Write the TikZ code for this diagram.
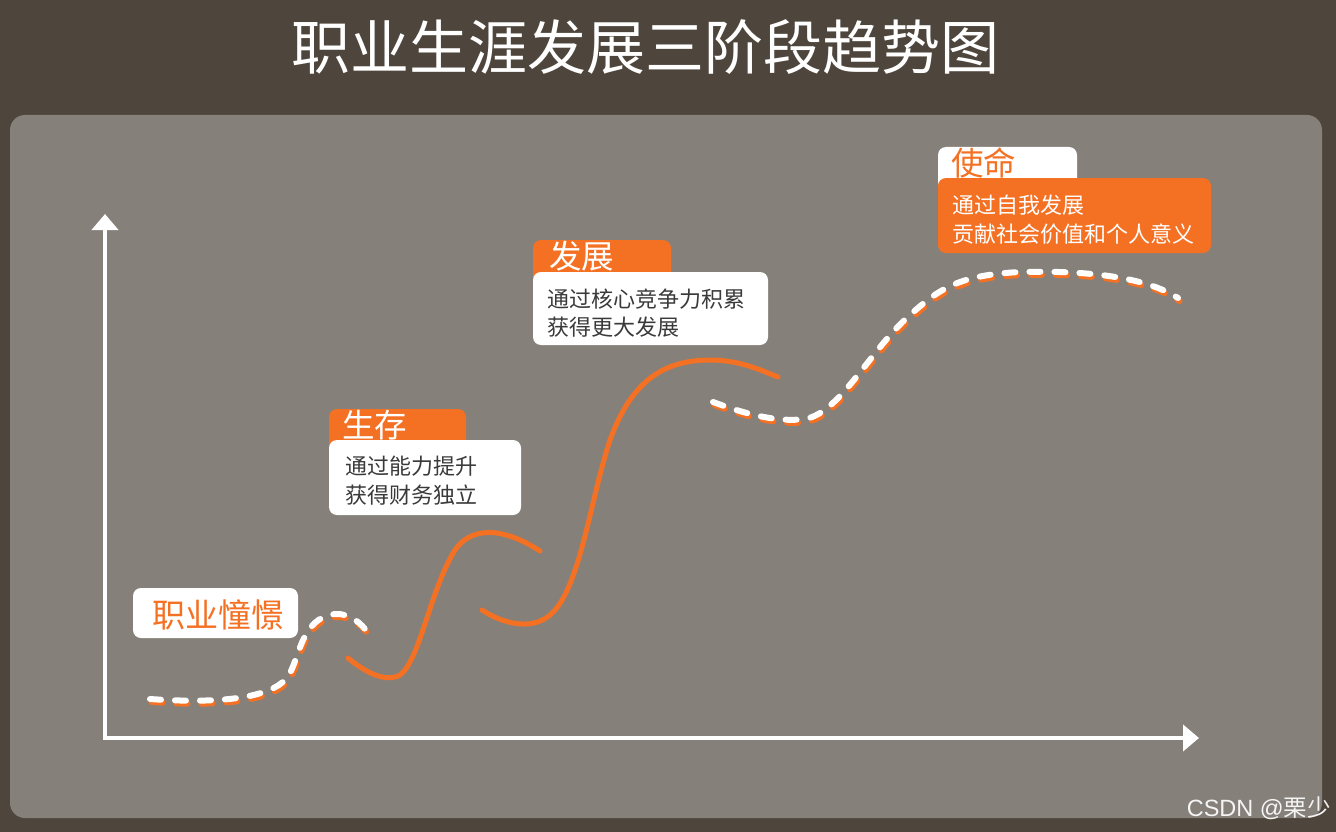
\documentclass[tikz,border=0pt]{standalone}
\usepackage{fontspec}
\setmainfont{Noto Sans CJK SC}
\newfontfamily\wmfont{Liberation Sans}
\usetikzlibrary{arrows.meta}
\definecolor{bgdark}{HTML}{4E463C}
\definecolor{panel}{HTML}{86807A}
\definecolor{orng}{HTML}{F47124}
\definecolor{bodytxt}{HTML}{3A3A3A}
\tikzset{
  dashcurve/.style={line width=6pt, line cap=round, dash pattern=on 11pt off 14pt},
  solidcurve/.style={orng, line width=5pt, line cap=round},
  axisline/.style={white, line width=4pt, -{Triangle[length=16pt, width=26pt]}},
  whitebox/.style={fill=white, rounded corners=8pt},
  orangebox/.style={fill=orng, rounded corners=8pt},
  headtxt/.style={inner sep=0pt, anchor=west, font=\fontsize{32.5}{32.5}\selectfont},
  bodyline/.style={inner sep=0pt, anchor=west, text=bodytxt, font=\fontsize{22}{22}\selectfont},
}
\begin{document}
\begin{tikzpicture}[x=1pt, y=-1pt]
\useasboundingbox (0,0) rectangle (1336,832);
\fill[bgdark] (0,0) rectangle (1336,832);
\fill[panel, rounded corners=15pt] (10,115) rectangle (1322,818);

% title
\node[text=white, inner sep=0pt, font=\fontsize{59}{59}\selectfont] (title) at (645,47) {职业生涯发展三阶段趋势图};

% axes
\coordinate (origin) at (105,738);
\coordinate (ytip) at (105,214);
\coordinate (xtip) at (1199,738);
\draw[axisline] (105,740) -- (ytip);
\draw[axisline] (103,738) -- (xtip);

% curve 1 (dashed)
\def\curveone{(150,699) .. controls (220,704) and (270,698) .. (287,678) .. controls (300,660) and (300,618) .. (335,614) .. controls (350,613) and (362,624) .. (368,633)}
\draw[dashcurve, orng, shift={(1.5,3)}] \curveone;
\draw[dashcurve, white] \curveone;

% curve 2 (solid)
\draw[solidcurve] (348,658) .. controls (365,672) and (385,683) .. (400,675) .. controls (420,660) and (430,590) .. (455,550) .. controls (470,528) and (500,525) .. (540,551);

% curve 3 (solid)
\draw[solidcurve] (482,610) .. controls (500,622) and (530,632) .. (550,615) .. controls (580,590) and (590,500) .. (610,440) .. controls (630,385) and (660,360) .. (710,360) .. controls (740,360) and (760,370) .. (778,377);

% curve 4 (dashed)
\def\curvefour{(713,402) .. controls (740,412) and (775,423) .. (805,419) .. controls (840,413) and (870,350) .. (910,315) .. controls (940,288) and (960,275) .. (1020,272) .. controls (1100,270) and (1150,280) .. (1178,298)}
\draw[dashcurve, orng, shift={(1.5,3)}] \curvefour;
\draw[dashcurve, white] \curvefour;

% label 1
\fill[whitebox] (133,588) rectangle (298,638);
\node[headtxt, text=orng, font=\fontsize{33}{33}\selectfont] (l1) at (152,615) {职业憧憬};

% label 2
\fill[orangebox] (329,409) rectangle (466,452);
\fill[whitebox] (329,440) rectangle (521,515);
\node[headtxt, text=white] (l2h) at (342,425) {生存};
\node[bodyline] (l2a) at (345,466) {通过能力提升};
\node[bodyline] (l2b) at (345,495) {获得财务独立};

% label 3
\fill[orangebox] (533,240) rectangle (671,284);
\fill[whitebox] (533,272) rectangle (768,345);
\node[headtxt, text=white] (l3h) at (549,256) {发展};
\node[bodyline] (l3a) at (547,299) {通过核心竞争力积累};
\node[bodyline] (l3b) at (547,327) {获得更大发展};

% label 4
\fill[whitebox] (938,147) rectangle (1077,190);
\fill[orangebox] (938,178) rectangle (1211,253);
\node[headtxt, text=orng] (l4h) at (951,163) {使命};
\node[bodyline, text=white] (l4a) at (952,205) {通过自我发展};
\node[bodyline, text=white] (l4b) at (952,234) {贡献社会价值和个人意义};

% watermark
\node[inner sep=0pt, anchor=east, text=white!92!gray, font=\fontsize{23.5}{23.5}\selectfont] (wm) at (1331,808) {{\wmfont CSDN @}栗少};
\end{tikzpicture}
\end{document}
